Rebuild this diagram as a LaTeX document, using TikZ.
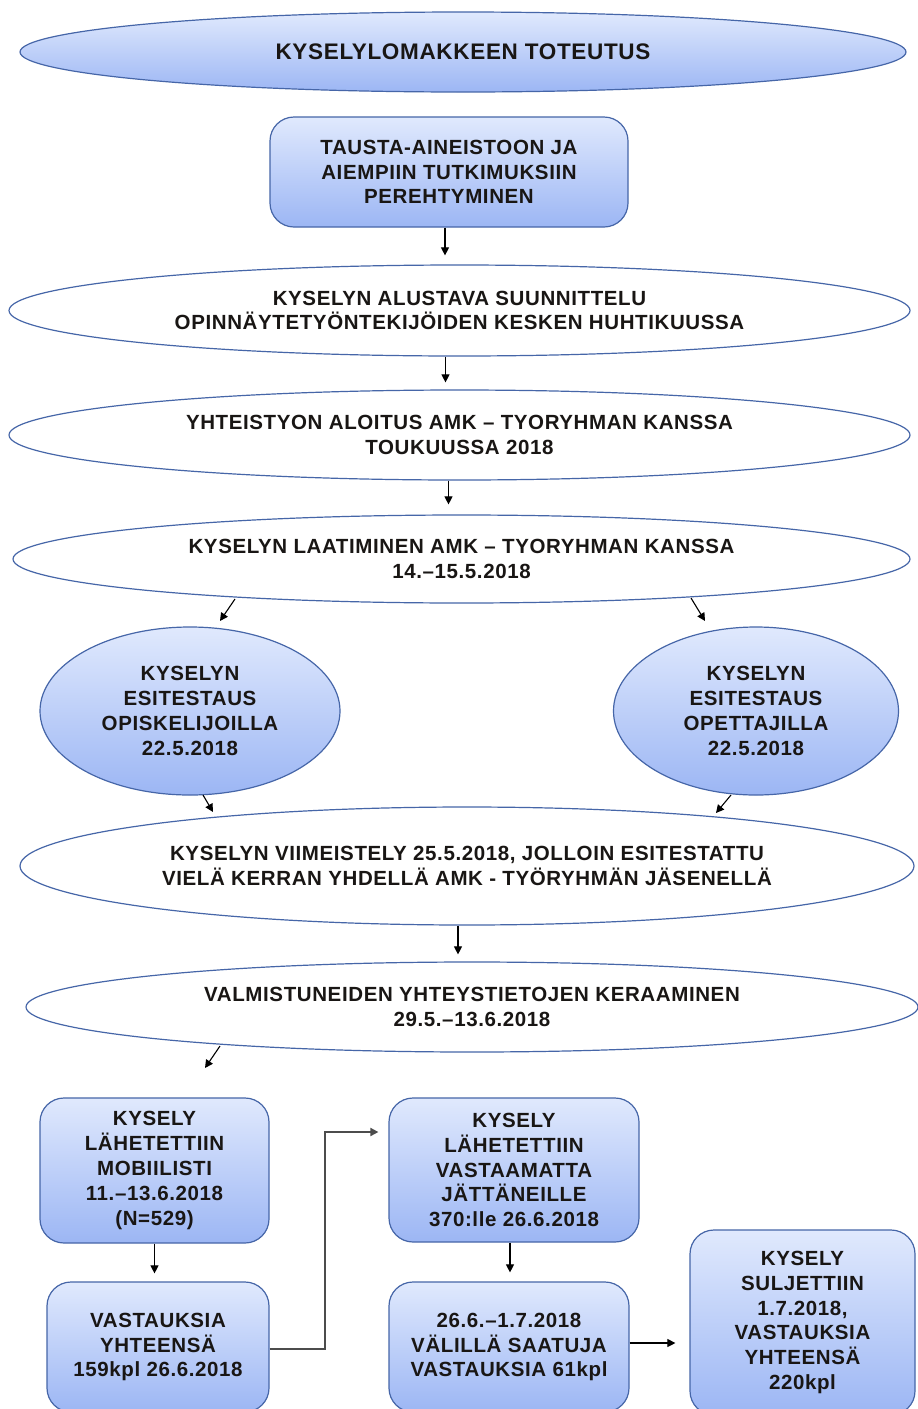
\documentclass[tikz,border=0pt]{standalone}
\usepackage{fontspec}
\setmainfont{Liberation Sans}[LetterSpace=3]
\usetikzlibrary{shapes.geometric,arrows.meta,calc}
\definecolor{topc}{RGB}{224,233,253}
\definecolor{botc}{RGB}{156,182,244}
\definecolor{bord}{RGB}{70,102,168}
\definecolor{txt}{RGB}{25,22,20}
\tikzset{
  lab/.style={font=\fontsize{20.5}{24.8}\selectfont\bfseries, align=center, text=txt},
  blueell/.style={ellipse, draw=bord, line width=1.2pt, top color=topc, bottom color=botc, inner sep=0pt, lab},
  whiteell/.style={ellipse, draw=bord, line width=1.2pt, fill=white, inner sep=0pt, lab},
  bbox/.style={rectangle, rounded corners=24pt, draw=bord, line width=1.2pt, top color=topc, bottom color=botc, inner sep=0pt, lab},
  arr/.style={-{Triangle[length=8pt,width=8pt]}, line width=1.1pt, black},
  elbow/.style={-{Triangle[length=8pt,width=8pt]}, line width=1.8pt, black!70}
}
\begin{document}
\begin{tikzpicture}[x=1pt,y=-1pt]
\useasboundingbox[fill=white] (0,0) rectangle (918,1409);

\node[blueell, minimum width=886pt, minimum height=80pt, font=\fontsize{22.5}{27}\selectfont\bfseries] (title) at (463,52) {KYSELYLOMAKKEEN TOTEUTUS};

\node[bbox, minimum width=358pt, minimum height=110pt] (t) at (449,172) {TAUSTA-AINEISTOON JA\\AIEMPIIN TUTKIMUKSIIN\\PEREHTYMINEN};

\node[whiteell, minimum width=901pt, minimum height=91pt] (e1) at (459.5,310.5) {KYSELYN ALUSTAVA SUUNNITTELU\\OPINNÄYTETYÖNTEKIJÖIDEN KESKEN HUHTIKUUSSA};

\node[whiteell, minimum width=901pt, minimum height=90pt] (e2) at (459.5,435) {YHTEISTYON ALOITUS AMK – TYORYHMAN KANSSA\\TOUKUUSSA 2018};

\node[whiteell, minimum width=897pt, minimum height=88pt] (e3) at (461.5,559) {KYSELYN LAATIMINEN AMK – TYORYHMAN KANSSA\\14.–15.5.2018};

\node[blueell, minimum width=300pt, minimum height=168pt] (c1) at (190,711) {KYSELYN\\ESITESTAUS\\OPISKELIJOILLA\\22.5.2018};

\node[blueell, minimum width=285pt, minimum height=168pt] (c2) at (756,711) {KYSELYN\\ESITESTAUS\\OPETTAJILLA\\22.5.2018};

\node[whiteell, minimum width=894pt, minimum height=118pt] (e4) at (467,866) {KYSELYN VIIMEISTELY 25.5.2018, JOLLOIN ESITESTATTU\\VIELÄ KERRAN YHDELLÄ AMK - TYÖRYHMÄN JÄSENELLÄ};

\node[whiteell, minimum width=892pt, minimum height=90pt] (e5) at (472,1007) {VALMISTUNEIDEN YHTEYSTIETOJEN KERAAMINEN\\29.5.–13.6.2018};

\node[bbox, minimum width=229pt, minimum height=145pt] (a) at (154.5,1170.5) {KYSELY\\LÄHETETTIIN\\MOBIILISTI\\11.–13.6.2018\\(N=529)};

\node[bbox, minimum width=222pt, minimum height=130pt] (b) at (158,1347) {VASTAUKSIA\\YHTEENSÄ\\159kpl 26.6.2018};

\node[bbox, minimum width=250pt, minimum height=144pt] (c) at (514,1170) {KYSELY\\LÄHETETTIIN\\VASTAAMATTA\\JÄTTÄNEILLE\\370:lle 26.6.2018};

\node[bbox, minimum width=240pt, minimum height=130pt] (d) at (509,1347) {26.6.–1.7.2018\\VÄLILLÄ SAATUJA\\VASTAUKSIA 61kpl};

\node[bbox, minimum width=225pt, minimum height=185pt] (e) at (802.5,1322.5) {KYSELY\\SULJETTIIN\\1.7.2018,\\VASTAUKSIA\\YHTEENSÄ\\220kpl};

% connectors
\draw[arr, shorten >=9pt] ([xshift=-4pt]t.south) -- ([xshift=-4pt]t.south |- e1.north);
\draw[arr, shorten >=7pt] ([xshift=-14pt]e1.south) -- ([xshift=-14pt]e1.south |- e2.north);
\draw[arr, shorten >=10pt] ([xshift=-11pt]e2.south) -- ([xshift=-11pt]e2.south |- e3.north);
\draw[arr] ($(e3.center)+(-226.5,40)$) -- ($(c1.center)+(30,-90)$);
\draw[arr] ($(e3.center)+(229.5,39)$) -- ($(c2.center)+(-51,-90)$);
\draw[arr] ($(c1.center)+(13,84)$) -- ($(e4.center)+(-254,-54)$);
\draw[arr] ($(c2.center)+(-25,84)$) -- ($(e4.center)+(249,-53)$);
\draw[arr, shorten >=7pt] ([xshift=-9pt]e4.south) -- ([xshift=-9pt]e4.south |- e5.north);
\draw[arr] ($(e5.center)+(-252,39)$) -- ($(a.center)+(50.5,-102.5)$);
\draw[arr, shorten >=8pt] (a.south) -- (a.south |- b.north);
\draw[elbow, shorten >=10pt] ([yshift=-2pt]b.east) -- ++(55pt,0pt) |- ([yshift=38pt]c.west);
\draw[arr, shorten >=9pt] ([xshift=-4pt]c.south) -- ([xshift=-4pt]c.south |- d.north);
\draw[arr, shorten >=14pt] ([yshift=4pt]d.east) -- ([yshift=4pt]d.east -| e.west);
\end{tikzpicture}
\end{document}
